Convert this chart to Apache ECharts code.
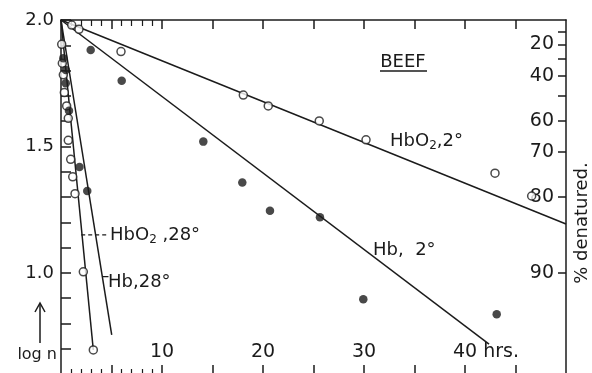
<!DOCTYPE html>
<html>
<head>
<meta charset="utf-8">
<script src="https://cdn.jsdelivr.net/npm/echarts@6/dist/echarts.min.js"></script>
<style>
  html, body { margin: 0; padding: 0; background: #fff; }
  #chart { width: 592px; height: 373px; }
</style>
</head>
<body>
<div id="chart"></div>
<script>
// Time in hours, log n of native protein remaining.
// HbO2 at 2 degrees (open circles)
const hbo2ColdHrs = [1.06, 1.78, 5.94, 18.05, 20.52, 25.57, 30.2, 42.97, 46.6];
const hbo2ColdLog = [1.98, 1.963, 1.875, 1.703, 1.66, 1.601, 1.526, 1.394, 1.304];
// Hb at 2 degrees (filled circles)
const hbColdHrs = [2.94, 6.01, 14.09, 17.95, 20.69, 25.64, 29.93, 43.14];
const hbColdLog = [1.881, 1.76, 1.519, 1.357, 1.246, 1.22, 0.896, 0.836];
// HbO2 at 28 degrees (open circles)
const hbo2WarmHrs = [0.07, 0.13, 0.23, 0.33, 0.56, 0.72, 0.72, 0.96, 1.16, 1.39, 2.21, 3.2];
const hbo2WarmLog = [1.904, 1.829, 1.783, 1.713, 1.66, 1.611, 1.524, 1.449, 1.38, 1.313, 1.004, 0.695];
// Hb at 28 degrees (filled circles)
const hbWarmHrs = [0.23, 0.47, 0.47, 0.79, 1.83, 2.6];
const hbWarmLog = [1.849, 1.802, 1.75, 1.641, 1.419, 1.324];

// Fitted first-order lines (start and end points)
const hbo2ColdFit = [[0, 2.0], [50, 1.193]];
const hbColdFit = [[0, 2.0], [42.38, 0.718]];
const hbo2WarmFit = [[0, 2.0], [3.2, 0.695]];
const hbWarmFit = [[0, 2.0], [5.02, 0.755]];

// Leader lines from curve labels to the 28 degree lines
const hbo2WarmLeader = [[2.0, 1.15], [4.75, 1.15]];
const hbWarmLeader = [[4.15, 0.985], [4.7, 0.985]];

// Axis ticks and labels
const timeMajorTicks = [5, 10, 15, 20, 25, 30, 35, 40, 45];
const timeMinorTicks = [1, 2, 3, 4, 6, 7, 8, 9];
const timeLabels = [10, 20, 30, 40];
const logLabels = [1.0, 1.5, 2.0];
const pctTicks = [10, 20, 30, 40, 50, 60, 70, 80, 90];
const pctLabels = [20, 40, 60, 70, 80, 90];

const FONT = 'DejaVu Sans';
const INK = '#1b1b1b';

const zip = (a, b) => a.map((v, i) => [v, b[i]]);
const pctToLog = p => Math.log10(100 - p);

const chart = echarts.init(document.getElementById('chart'), null, { renderer: 'canvas' });

const lineStyle = { color: INK, width: 1.5 };
const fitSeries = (data) => ({
  type: 'line', data, symbol: 'none', lineStyle, silent: true, z: 2, animation: false,
  xAxisIndex: 0, yAxisIndex: 0
});

const axisLineOn = { show: true, onZero: false, lineStyle: { color: INK, width: 1.5 } };
const hiddenAxisBits = { axisLine: { show: false, onZero: false }, axisLabel: { show: false }, splitLine: { show: false } };

const option = {
  animation: false,
  backgroundColor: '#fff',
  grid: { left: 61, top: 20, width: 505, height: 354, containLabel: false, outerBoundsMode: 'none' },
  xAxis: [
    {
      type: 'value', position: 'bottom', min: 0, max: 50,
      axisLine: axisLineOn,
      axisTick: { show: true, inside: true, length: 9, customValues: timeMajorTicks, lineStyle: { color: INK, width: 1.5 } },
      axisLabel: {
        show: true, inside: true, margin: 12, customValues: timeLabels,
        color: INK, fontFamily: FONT, fontSize: 19,
        formatter: v => v === 40 ? '{pad|}40{u| hrs.}' : String(v),
        rich: {
          pad: { width: 42, fontSize: 19, fontFamily: FONT },
          u: { fontSize: 19, fontFamily: FONT, color: INK }
        }
      },
      splitLine: { show: false }
    },
    {
      type: 'value', position: 'bottom', min: 0, max: 50, ...hiddenAxisBits,
      axisTick: { show: true, inside: true, length: 5, customValues: timeMinorTicks, lineStyle: { color: INK, width: 1.2 } }
    },
    {
      type: 'value', position: 'top', min: 0, max: 50,
      axisLine: axisLineOn,
      axisTick: { show: true, inside: true, length: 9, customValues: timeMajorTicks, lineStyle: { color: INK, width: 1.5 } },
      axisLabel: { show: false }, splitLine: { show: false }
    },
    {
      type: 'value', position: 'top', min: 0, max: 50, ...hiddenAxisBits,
      axisTick: { show: true, inside: true, length: 6, customValues: timeMinorTicks, lineStyle: { color: INK, width: 1.2 } }
    }
  ],
  yAxis: [
    {
      type: 'value', position: 'left', min: 0.6, max: 2.0, interval: 0.1,
      axisLine: axisLineOn,
      axisTick: { show: true, inside: true, length: 10, lineStyle: { color: INK, width: 1.5 } },
      axisLabel: {
        show: true, margin: 7, customValues: logLabels,
        color: INK, fontFamily: FONT, fontSize: 18,
        formatter: v => v.toFixed(1)
      },
      splitLine: { show: false }
    },
    {
      type: 'value', position: 'right', min: 0.6, max: 2.0,
      axisLine: axisLineOn,
      axisTick: { show: true, inside: true, length: 8, customValues: pctTicks.map(pctToLog), lineStyle: { color: INK, width: 1.5 } },
      axisLabel: {
        show: true, inside: true, margin: 12, customValues: pctLabels.map(pctToLog),
        color: INK, fontFamily: FONT, fontSize: 19,
        formatter: v => String(Math.round(100 - Math.pow(10, v)))
      },
      splitLine: { show: false }
    }
  ],
  series: [
    fitSeries(hbo2ColdFit),
    fitSeries(hbColdFit),
    fitSeries(hbo2WarmFit),
    fitSeries(hbWarmFit),
    {
      type: 'line', data: hbo2WarmLeader, symbol: 'none', silent: true, z: 2,
      lineStyle: { color: INK, width: 1.2, type: [4, 3] }
    },
    {
      type: 'line', data: hbWarmLeader, symbol: 'none', silent: true, z: 2,
      lineStyle: { color: INK, width: 1.2 }
    },
    {
      name: 'HbO2', type: 'scatter', z: 3, symbol: 'circle', symbolSize: 8,
      data: zip(hbo2ColdHrs, hbo2ColdLog).concat(zip(hbo2WarmHrs, hbo2WarmLog)),
      itemStyle: { color: '#fff', borderColor: INK, borderWidth: 1.5 }
    },
    {
      name: 'Hb', type: 'scatter', z: 4, symbol: 'circle', symbolSize: 8.5,
      data: zip(hbColdHrs, hbColdLog).concat(zip(hbWarmHrs, hbWarmLog)),
      itemStyle: { color: INK, borderWidth: 0 }
    }
  ],
  graphic: [
    { type: 'text', x: 403, y: 62, z: 10, style: { text: 'BEEF', font: '18px "DejaVu Sans"', fill: INK, align: 'center', verticalAlign: 'middle' } },
    { type: 'line', z: 10, shape: { x1: 380, y1: 71, x2: 427, y2: 71 }, style: { stroke: INK, lineWidth: 1.5 } },
    {
      type: 'text', x: 390, y: 141, z: 10,
      style: {
        text: '{a|HbO}{s|2}{a|,2°}', align: 'left', verticalAlign: 'middle', fill: INK,
        rich: {
          a: { fontSize: 18, fontFamily: FONT, fill: INK },
          s: { fontSize: 12, fontFamily: FONT, fill: INK, padding: [9, 0, 0, 0], verticalAlign: 'bottom' }
        }
      }
    },
    { type: 'text', x: 373, y: 250, z: 10, style: { text: 'Hb,  2°', font: '18px "DejaVu Sans"', fill: INK, align: 'left', verticalAlign: 'middle' } },
    {
      type: 'text', x: 110, y: 235, z: 10,
      style: {
        text: '{a|HbO}{s|2}{a| ,28°}', align: 'left', verticalAlign: 'middle', fill: INK,
        rich: {
          a: { fontSize: 18, fontFamily: FONT, fill: INK },
          s: { fontSize: 12, fontFamily: FONT, fill: INK, padding: [9, 0, 0, 0], verticalAlign: 'bottom' }
        }
      }
    },
    { type: 'text', x: 108, y: 282, z: 10, style: { text: 'Hb,28°', font: '18px "DejaVu Sans"', fill: INK, align: 'left', verticalAlign: 'middle' } },
    { type: 'text', x: 57, y: 355, z: 10, style: { text: 'log n', font: '16px "DejaVu Sans"', fill: INK, align: 'right', verticalAlign: 'middle' } },
    { type: 'polyline', z: 10, shape: { points: [[40, 343], [40, 304]] }, style: { stroke: INK, lineWidth: 1.5, fill: null } },
    { type: 'polyline', z: 10, shape: { points: [[35, 312], [40, 303], [45, 312]] }, style: { stroke: INK, lineWidth: 1.5, fill: null } },
    {
      type: 'text', x: 582, y: 223, rotation: Math.PI / 2, z: 10,
      style: { text: '% denatured.', font: '18px "DejaVu Sans"', fill: INK, align: 'center', verticalAlign: 'middle' }
    }
  ]
};

chart.setOption(option);
</script>
</body>
</html>
